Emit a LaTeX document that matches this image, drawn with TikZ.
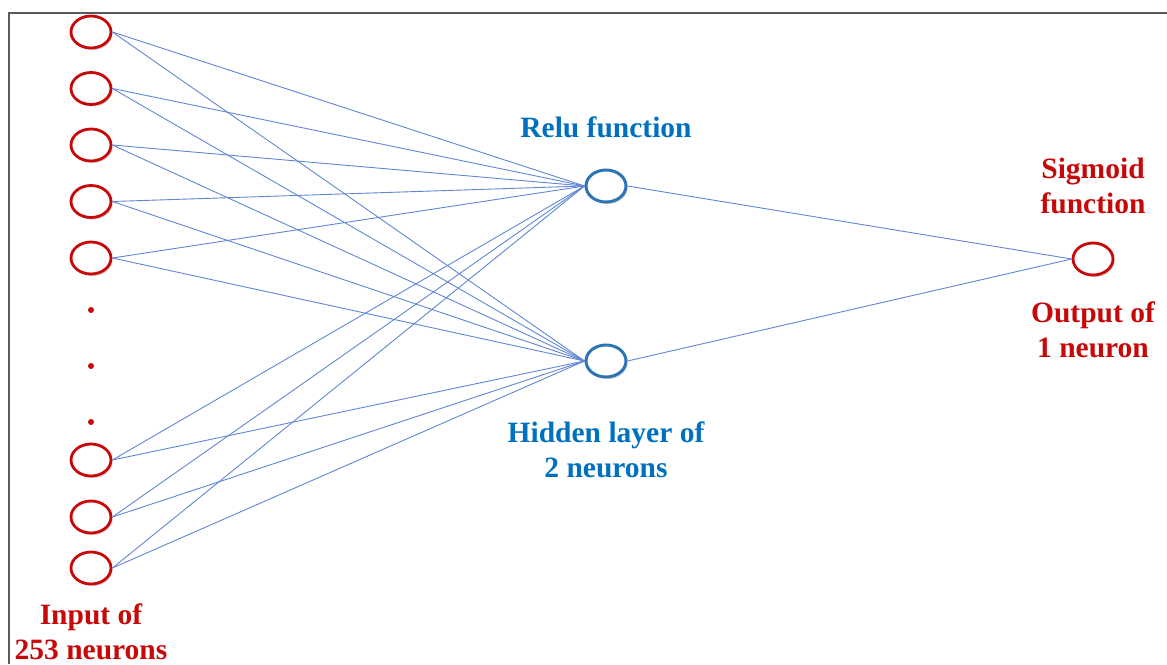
\documentclass[tikz,border=0pt]{standalone}
\usepackage{fontspec}
\setmainfont{Liberation Serif}
\usepackage{tikz}
\usetikzlibrary{shapes.geometric, shadows}
\definecolor{nred}{RGB}{200,8,8}
\definecolor{nblue}{RGB}{46,117,182}
\definecolor{tblue}{RGB}{0,112,192}
\definecolor{wireblue}{RGB}{96,134,212}
\definecolor{framegray}{RGB}{90,90,90}
\tikzstyle{inneuron} = [ellipse, minimum width=40pt, minimum height=32pt, inner sep=0, draw=nred, line width=2.8pt, fill=white, drop shadow={shadow xshift=1.5pt, shadow yshift=-2pt, opacity=0.3, fill=black!60}]
\tikzstyle{hidneuron} = [ellipse, minimum width=40pt, minimum height=32pt, inner sep=0, draw=nblue, line width=3pt, fill=white, drop shadow={shadow xshift=1.5pt, shadow yshift=-2pt, opacity=0.3, fill=black!60}]
\tikzstyle{gap} = [circle, fill=nred, inner sep=0, minimum size=6pt]
\tikzstyle{redlabel} = [text=nred, font=\bfseries\fontsize{29.5}{35}\selectfont, align=center]
\tikzstyle{bluelabel} = [text=tblue, font=\bfseries\fontsize{29.5}{35}\selectfont, align=center]
\tikzstyle{wire} = [draw=wireblue, line width=0.9pt]
\begin{document}
\begin{tikzpicture}[x=1pt, y=-1pt, node distance=56.5pt]

\useasboundingbox (0,0) rectangle (1167,664);
\draw [framegray, line width=2pt] (9,664) -- (9,12.5) -- (1167,12.5);

% input layer
\node (in1) [inneuron] at (91,32) {};
\node (in2) [inneuron, below of=in1] {};
\node (in3) [inneuron, below of=in2] {};
\node (in4) [inneuron, below of=in3] {};
\node (in5) [inneuron, below of=in4] {};
\node (dot1) [gap, below of=in5, node distance=52pt] {};
\node (dot2) [gap, below of=dot1, node distance=56pt] {};
\node (dot3) [gap, below of=dot2, node distance=56pt] {};
\node (in6) [inneuron, below of=dot3, node distance=38pt] {};
\node (in7) [inneuron, below of=in6, node distance=57pt] {};
\node (in8) [inneuron, below of=in7, node distance=51pt] {};
\node (intxt) [redlabel, below of=in8, node distance=64pt] {Input of\\253 neurons};

% hidden layer
\node (hid1) [hidneuron] at (606,186) {};
\node (hid2) [hidneuron, below of=hid1, node distance=175pt] {};
\node (relu) [bluelabel, above of=hid1, node distance=59pt] {Relu function};
\node (hidtxt) [bluelabel, below of=hid2, node distance=89pt] {Hidden layer of\\2 neurons};

% output layer
\node (out1) [inneuron] at (1093,259) {};
\node (sig) [redlabel, above of=out1, node distance=73.5pt] {Sigmoid\\function};
\node (outtxt) [redlabel, below of=out1, node distance=71pt] {Output of\\1 neuron};

\draw [wire] (in1.east) -- (hid1.west);
\draw [wire] (in1.east) -- (hid2.west);
\draw [wire] (in2.east) -- (hid1.west);
\draw [wire] (in2.east) -- (hid2.west);
\draw [wire] (in3.east) -- (hid1.west);
\draw [wire] (in3.east) -- (hid2.west);
\draw [wire] (in4.east) -- (hid1.west);
\draw [wire] (in4.east) -- (hid2.west);
\draw [wire] (in5.east) -- (hid1.west);
\draw [wire] (in5.east) -- (hid2.west);
\draw [wire] (in6.east) -- (hid1.west);
\draw [wire] (in6.east) -- (hid2.west);
\draw [wire] (in7.east) -- (hid1.west);
\draw [wire] (in7.east) -- (hid2.west);
\draw [wire] (in8.east) -- (hid1.west);
\draw [wire] (in8.east) -- (hid2.west);
\draw [wire] (hid1.east) -- (out1.west);
\draw [wire] (hid2.east) -- (out1.west);

\end{tikzpicture}
\end{document}
